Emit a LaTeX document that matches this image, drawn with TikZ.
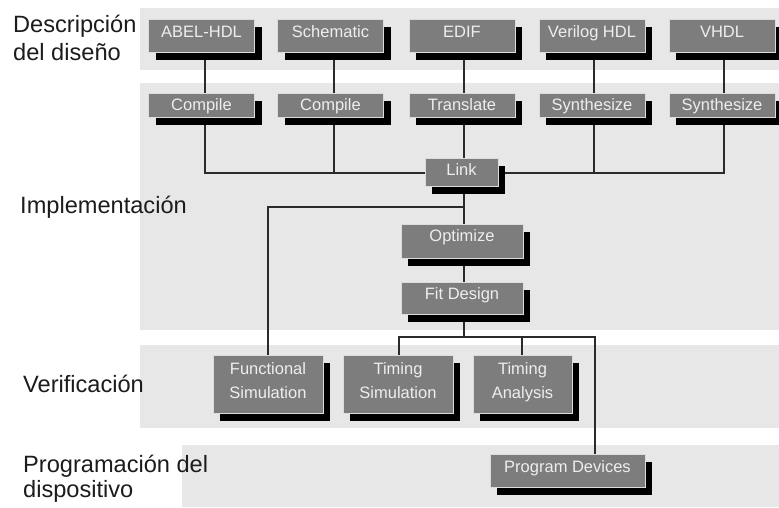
\documentclass[tikz,border=0pt]{standalone}
\usepackage{fontspec}
\setmainfont{Liberation Sans}
\usetikzlibrary{shadows}
\definecolor{boxgray}{HTML}{7D7D7D}
\definecolor{boxedge}{HTML}{DCDCDC}
\definecolor{boxtext}{HTML}{EEEEEE}
\definecolor{bandgray}{HTML}{E7E7E7}
\definecolor{linegray}{HTML}{2A2A2A}
\definecolor{lbltext}{HTML}{1C1C1C}
\pgfdeclarelayer{bands}
\pgfdeclarelayer{lines}
\pgfsetlayers{bands,lines,main}
\newcommand\bxfont{\fontsize{16.5}{24}\selectfont}
\newcommand\lbfont{\fontsize{23.6}{28}\selectfont}
\tikzset{
  box/.style={rectangle, fill=boxgray, draw=boxedge, line width=1pt, text=boxtext,
    font=\bxfont, inner sep=0pt,
    drop shadow={shadow xshift=7pt, shadow yshift=-8pt, fill=black, opacity=1}},
  rowa/.style={box, minimum width=106pt, minimum height=33pt, text height=12pt, text depth=9pt},
  rowb/.style={box, minimum width=106pt, minimum height=24pt, text height=12pt, text depth=2pt},
  twoline/.style={box, minimum height=58pt, text height=36pt, text depth=8pt},
  lbl/.style={anchor=base west, inner sep=0pt, text=lbltext, font=\lbfont},
  conn/.style={draw=linegray, line width=1.2pt},
  band/.style={fill=bandgray, draw=none}
}
\begin{document}
\begin{tikzpicture}[x=1pt,y=-1pt]
\useasboundingbox (0,0) rectangle (779,507);
\begin{pgfonlayer}{bands}
  \fill[white] (0,0) rectangle (779,507);
  \fill[band] (140,8) rectangle (779,70);
  \fill[band] (140,83) rectangle (779,330);
  \fill[band] (140,345) rectangle (779,428);
  \fill[band] (182,445) rectangle (779,507);
\end{pgfonlayer}

% left labels
\node[lbl] (l1a) at (13,32) {Descripción};
\node[lbl] (l1b) at (13,60) {del diseño};
\node[lbl] (l2) at (20,213) {Implementación};
\node[lbl] (l3) at (23,392) {Verificación};
\node[lbl] (l4a) at (23,472) {Programación del};
\node[lbl] (l4b) at (23,497) {dispositivo};

% row 1
\node[rowa] (abel) at (201.5,35.5) {ABEL-HDL};
\node[rowa] (schem) at (330.5,35.5) {Schematic};
\node[rowa] (edif) at (462,35.5) {EDIF};
\node[rowa] (veri) at (592,35.5) {Verilog HDL};
\node[rowa] (vhdl) at (722,35.5) {VHDL};
% row 2
\node[rowb] (comp1) at (201.5,105) {Compile};
\node[rowb] (comp2) at (330.5,105) {Compile};
\node[rowb] (transl) at (462,105) {Translate};
\node[rowb] (synth1) at (592,105) {Synthesize};
\node[rowb] (synth2) at (722,105) {Synthesize};
% implementation
\node[box, minimum width=73pt, minimum height=28pt, text height=12pt, text depth=6pt] (link) at (461.5,172) {Link};
\node[box, minimum width=122pt, minimum height=34pt, text height=12pt, text depth=12pt] (opt) at (462,241) {Optimize};
\node[box, minimum width=122pt, minimum height=32pt, text height=12pt, text depth=10pt] (fit) at (462,298) {Fit Design};
% verification
\node[twoline, minimum width=110pt] (funcsim) at (268,384) {\begin{tabular}[b]{@{}c@{}}Functional\\Simulation\end{tabular}};
\node[twoline, minimum width=110pt] (timsim) at (398,384) {\begin{tabular}[b]{@{}c@{}}Timing\\Simulation\end{tabular}};
\node[twoline, minimum width=99pt] (timan) at (522.5,384) {\begin{tabular}[b]{@{}c@{}}Timing\\Analysis\end{tabular}};
% programming
\node[box, minimum width=155pt, minimum height=33pt, text height=12pt, text depth=9pt] (prog) at (567.5,470.5) {Program Devices};

% connector guide coordinates
\coordinate (xa) at (205,0);
\coordinate (xb) at (334,0);
\coordinate (xc) at (464,0);
\coordinate (xd) at (594,0);
\coordinate (xe) at (724,0);
\coordinate (xf) at (595,0);
\coordinate (xg) at (399,0);
\coordinate (xh) at (522,0);
\coordinate (busa) at (0,173);
\coordinate (busb) at (0,207);
\coordinate (busc) at (0,337);

\begin{pgfonlayer}{lines}
  \draw[conn] (abel -| xa) -- (comp1 -| xa);
  \draw[conn] (schem -| xb) -- (comp2 -| xb);
  \draw[conn] (edif -| xc) -- (transl -| xc);
  \draw[conn] (veri -| xd) -- (synth1 -| xd);
  \draw[conn] (vhdl -| xe) -- (synth2 -| xe);
  \draw[conn] (comp1 -| xa) -- (busa -| xa) -- (busa -| xe) -- (synth2 -| xe);
  \draw[conn] (comp2 -| xb) -- (busa -| xb);
  \draw[conn] (synth1 -| xd) -- (busa -| xd);
  \draw[conn] (transl -| xc) -- (link -| xc);
  \draw[conn] (link -| xc) -- (opt -| xc) -- (fit -| xc) -- (busc -| xc);
  \draw[conn] (busb -| xc) -| (funcsim);
  \draw[conn] (timsim -| xg) -- (busc -| xg) -- (busc -| xf) -- (prog -| xf);
  \draw[conn] (timan -| xh) -- (busc -| xh);
\end{pgfonlayer}
\end{tikzpicture}
\end{document}
